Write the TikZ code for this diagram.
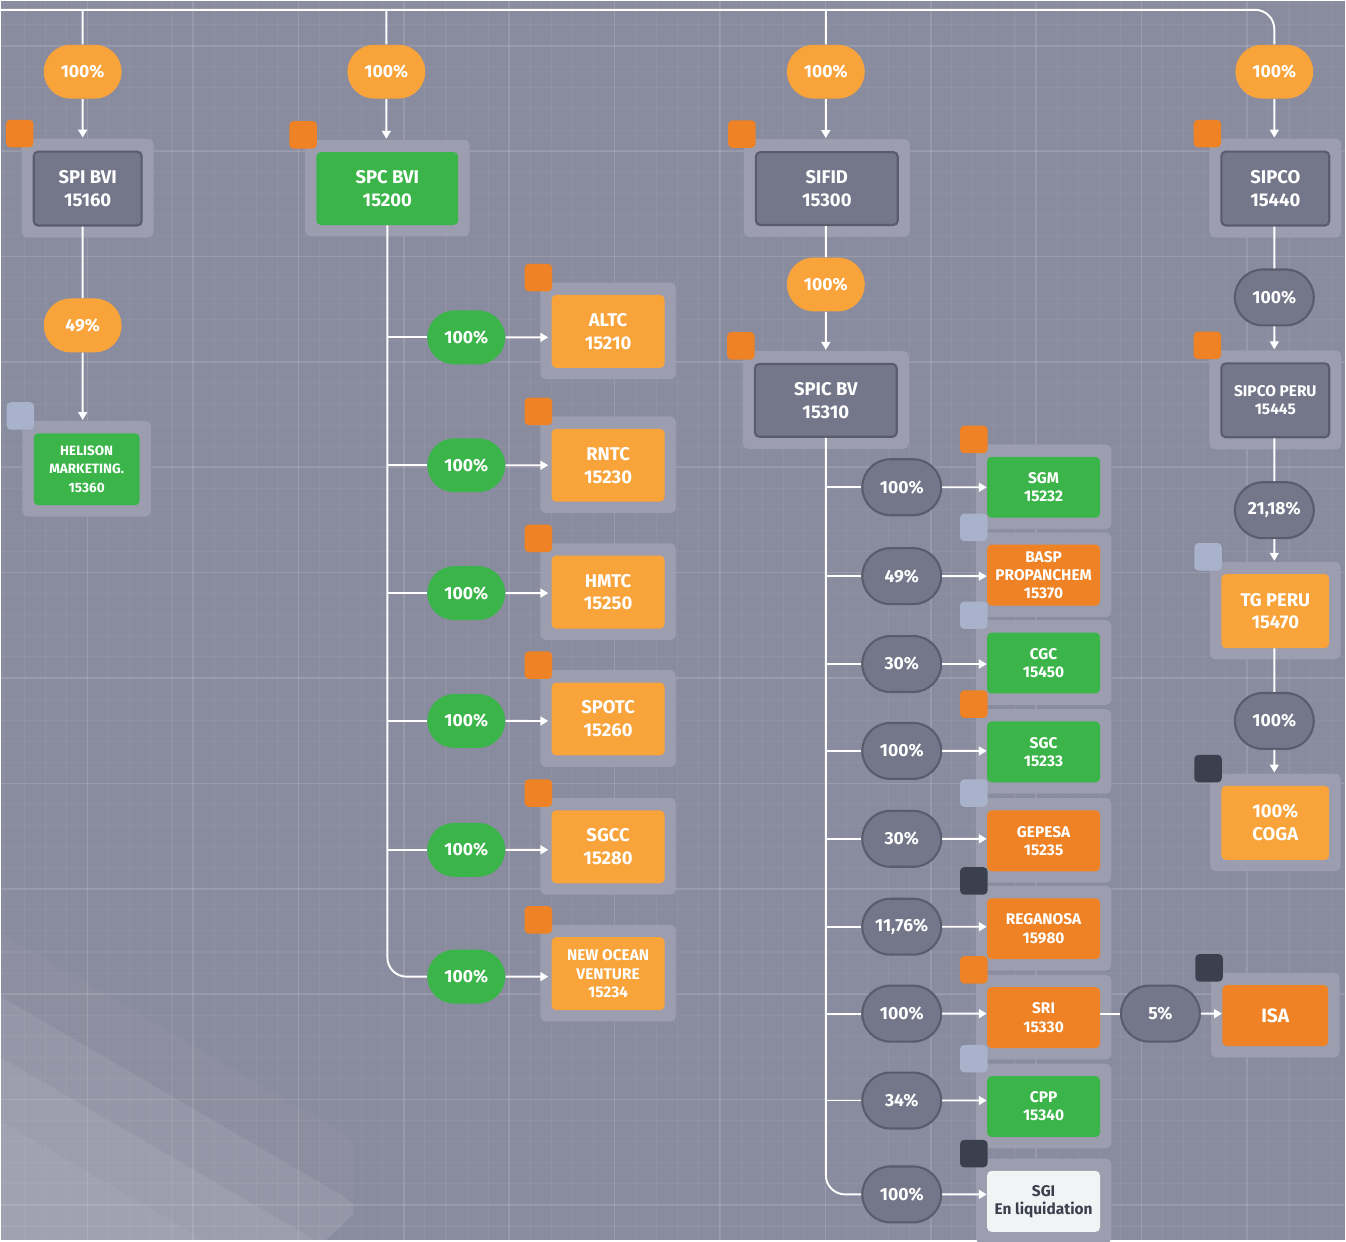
\documentclass[tikz,border=0pt]{standalone}
\usepackage{fontspec}
\setmainfont{Fira Sans}
\usetikzlibrary{arrows.meta,calc,shapes.misc}

\pgfdeclarelayer{back}
\pgfdeclarelayer{halo}
\pgfsetlayers{back,halo,main}

\definecolor{bgfill}{HTML}{898B9E}
\definecolor{halofill}{HTML}{9C9EAF}
\definecolor{greyfill}{HTML}{74768A}
\definecolor{greyline}{HTML}{5A5C6D}
\definecolor{orangelight}{HTML}{F9A33B}
\definecolor{orangedark}{HTML}{EE8224}
\definecolor{greenfill}{HTML}{3BB54A}
\definecolor{tagblue}{HTML}{A8B2CA}
\definecolor{tagdark}{HTML}{3B404F}
\definecolor{sgifill}{HTML}{F2F3F5}

\begin{document}
\begin{tikzpicture}[x=0.02cm, y=-0.02cm]

\tikzset{
  link/.style={draw=white, line width=1.1pt},
  arrow/.style={link, -{Triangle[width=5pt,length=4.5pt]}},
  down arrow/.style={arrow, shorten >=0.26cm},
  side arrow/.style={arrow, shorten >=0.06cm},
  grid minor/.style={white, opacity=0.05, line width=0.6pt},
  grid major/.style={white, opacity=0.1, line width=0.9pt},
  base box/.style={
    rectangle,
    rounded corners=2.5pt,
    inner sep=0pt,
    align=center,
    text=white,
    font=\bfseries\fontsize{10.5}{13}\selectfont,
  },
  grey box/.style={base box, fill=greyfill, draw=greyline, line width=1.2pt},
  orange box/.style={base box, fill=orangelight},
  dark box/.style={base box, fill=orangedark},
  green box/.style={base box, fill=greenfill},
  white box/.style={base box, fill=sgifill, text=tagdark},
  top size/.style={minimum width=2.16cm, minimum height=1.48cm},
  wide size/.style={minimum width=2.84cm, minimum height=1.46cm},
  mid size/.style={minimum width=2.26cm, minimum height=1.46cm},
  small size/.style={minimum width=2.26cm, minimum height=1.22cm,
    font=\bfseries\fontsize{8.8}{10.3}\selectfont},
  pill/.style={
    rounded rectangle,
    minimum width=1.56cm,
    minimum height=1.08cm,
    inner sep=0pt,
    text=white,
    font=\bfseries\fontsize{10}{11}\selectfont,
  },
  orange pill/.style={pill, fill=orangelight},
  green pill/.style={pill, fill=greenfill},
  grey pill/.style={pill, fill=greyfill, draw=greyline, line width=1.2pt,
    minimum width=1.58cm, minimum height=1.12cm},
  halo/.style={fill=halofill, rounded corners=3pt},
  tag/.style={rectangle, minimum size=0.55cm, inner sep=0pt, rounded corners=2.3pt},
}

% Background
\begin{pgfonlayer}{back}
  \fill[bgfill] (0,0) rectangle (1346,1241);
  \fill[white, opacity=0.035] (0,933) -- (345,1135) -- (353,1145) -- (353,1215) -- (325,1241) -- (0,1241) -- cycle;
  \fill[white, opacity=0.07] (0,997) -- (340,1195) -- (353,1205) -- (353,1215) -- (325,1241) -- (0,1241) -- cycle;
  \fill[white, opacity=0.07] (0,1058) -- (315,1241) -- (0,1241) -- cycle;
  \fill[white, opacity=0.05] (0,1122) -- (205,1241) -- (0,1241) -- cycle;
  \foreach \i in {0,...,63} \draw[grid minor] ({2.6+21.1*\i},0) -- ({2.6+21.1*\i},1241);
  \foreach \i in {0,...,58} \draw[grid minor] (0,{2.8+21.1*\i}) -- (1346,{2.8+21.1*\i});
  \foreach \i in {0,...,11} \draw[grid major] ({87+105.5*\i},0) -- ({87+105.5*\i},1241);
  \foreach \i in {0,...,11} \draw[grid major] (0,{45+105.5*\i}) -- (1346,{45+105.5*\i});
\end{pgfonlayer}
\useasboundingbox (0,0) rectangle (1346,1241);

% Column 1: SPI BVI
\node[orange pill] (p1) at (82,71) {100\%};
\node[grey box, top size] (spi) at (87,188) {SPI BVI\\15160};
\node[orange pill] (p2) at (82,325) {49\%};
\node[green box, minimum width=2.12cm, minimum height=1.44cm,
  font=\bfseries\fontsize{7.7}{10.3}\selectfont] (helison) at (86,469) {HELISON\\MARKETING.\\15360};

% Column 2: SPC BVI and its six holdings
\node[orange pill] (p3) at (386,71) {100\%};
\node[green box, wide size] (spc) at (387,188) {SPC BVI\\15200};
\node[green pill] (q1) at (466,337) {100\%};
\node[green pill] (q2) at (466,465) {100\%};
\node[green pill] (q3) at (466,593) {100\%};
\node[green pill] (q4) at (466,721) {100\%};
\node[green pill] (q5) at (466,850) {100\%};
\node[green pill] (q6) at (466,977) {100\%};
\node[orange box, mid size] (altc) at (608,331) {ALTC\\15210};
\node[orange box, mid size] (rntc) at (608,465) {RNTC\\15230};
\node[orange box, mid size] (hmtc) at (608,592) {HMTC\\15250};
\node[orange box, mid size] (spotc) at (608,719) {SPOTC\\15260};
\node[orange box, mid size] (sgcc) at (608,847) {SGCC\\15280};
\node[orange box, mid size, font=\bfseries\fontsize{8.8}{10.3}\selectfont] (nov) at (608,974) {NEW OCEAN\\VENTURE\\15234};

% Column 3: SIFID, SPIC BV and its nine holdings
\node[orange pill] (p4) at (826,71) {100\%};
\node[grey box, wide size] (sifid) at (827,188) {SIFID\\15300};
\node[orange pill] (p5) at (826,284) {100\%};
\node[grey box, wide size] (spicbv) at (826,400) {SPIC BV\\15310};
\node[grey pill] (r1) at (902,487) {100\%};
\node[grey pill] (r2) at (902,576) {49\%};
\node[grey pill] (r3) at (902,664) {30\%};
\node[grey pill] (r4) at (902,751) {100\%};
\node[grey pill] (r5) at (902,839) {30\%};
\node[grey pill] (r6) at (902,927) {11,76\%};
\node[grey pill] (r7) at (902,1014) {100\%};
\node[grey pill] (r8) at (902,1101) {34\%};
\node[grey pill] (r9) at (902,1195) {100\%};
\node[green box, small size] (sgm) at (1044,487) {SGM\\15232};
\node[dark box, small size] (basp) at (1044,575) {BASP\\PROPANCHEM\\15370};
\node[green box, small size] (cgc) at (1044,663) {CGC\\15450};
\node[green box, small size] (sgc) at (1044,752) {SGC\\15233};
\node[dark box, small size] (gepesa) at (1044,841) {GEPESA\\15235};
\node[dark box, small size] (reganosa) at (1044,929) {REGANOSA\\15980};
\node[dark box, small size] (sri) at (1044,1018) {SRI\\15330};
\node[green box, small size] (cpp) at (1044,1107) {CPP\\15340};
\node[white box, small size] (sgi) at (1044,1202) {SGI\\En liquidation};
\node[grey pill] (s1) at (1161,1014) {5\%};
\node[dark box, minimum width=2.12cm, minimum height=1.22cm,
  font=\bfseries\fontsize{11}{13}\selectfont] (isa) at (1276,1016) {ISA};

% Column 4: SIPCO chain
\node[orange pill] (p6) at (1275,71) {100\%};
\node[grey box, top size] (sipco) at (1276,188) {SIPCO\\15440};
\node[grey pill] (t1) at (1275,297) {100\%};
\node[grey box, top size, font=\bfseries\fontsize{8.8}{10.3}\selectfont] (sipcoperu) at (1276,400) {SIPCO PERU\\15445};
\node[grey pill] (t2) at (1275,510) {21,18\%};
\node[orange box, top size] (tgperu) at (1276,611) {TG PERU\\15470};
\node[grey pill] (t3) at (1275,721) {100\%};
\node[orange box, top size] (coga) at (1276,823) {100\%\\COGA};

% Halos and status tags
\begin{pgfonlayer}{halo}
  \foreach \n/\c in {spi/orangedark, helison/tagblue, spc/orangedark,
      altc/orangedark, rntc/orangedark, hmtc/orangedark, spotc/orangedark,
      sgcc/orangedark, nov/orangedark, sifid/orangedark, spicbv/orangedark,
      sgm/orangedark, basp/tagblue, cgc/tagblue, sgc/orangedark,
      gepesa/tagblue, reganosa/tagdark, sri/orangedark, cpp/tagblue,
      sgi/tagdark, isa/tagdark, sipco/orangedark, sipcoperu/orangedark,
      tgperu/tagblue, coga/tagdark} {
    \fill[halo] ($(\n.north west)+(-11,-12)$) rectangle ($(\n.south east)+(11,11)$);
    \node[tag, fill=\c] (tag-\n) at ($(\n.north west)+(-13,-17)$) {};
  }
\end{pgfonlayer}

% Top bus
\coordinate (bus) at (0,9);
\draw[link, rounded corners=11pt] (bus) -| (p6);
\draw[link] (p1) -- (p1 |- bus);
\draw[link] (p3) -- (p3 |- bus);
\draw[link] (p4) -- (p4 |- bus);

% Edges column 1
\draw[down arrow] (p1) -- (p1 |- spi.north);
\draw[link] (spi.south -| p2) -- (p2);
\draw[down arrow] (p2) -- (p2 |- helison.north);

% Edges column 2
\draw[down arrow] (p3) -- (p3 |- spc.north);
\draw[link, rounded corners=11pt] (spc) |- (q6);
\draw[link] (q1 -| spc) -- (q1);
\draw[link] (q2 -| spc) -- (q2);
\draw[link] (q3 -| spc) -- (q3);
\draw[link] (q4 -| spc) -- (q4);
\draw[link] (q5 -| spc) -- (q5);
\draw[side arrow] (q1) -- (q1 -| altc.west);
\draw[side arrow] (q2) -- (q2 -| rntc.west);
\draw[side arrow] (q3) -- (q3 -| hmtc.west);
\draw[side arrow] (q4) -- (q4 -| spotc.west);
\draw[side arrow] (q5) -- (q5 -| sgcc.west);
\draw[side arrow] (q6) -- (q6 -| nov.west);

% Edges column 3
\draw[down arrow] (p4) -- (p4 |- sifid.north);
\draw[link] (sifid.south -| p5) -- (p5);
\draw[down arrow] (p5) -- (p5 |- spicbv.north);
\draw[link, rounded corners=11pt] (spicbv) |- (r9);
\draw[link] (r1 -| spicbv) -- (r1);
\draw[link] (r2 -| spicbv) -- (r2);
\draw[link] (r3 -| spicbv) -- (r3);
\draw[link] (r4 -| spicbv) -- (r4);
\draw[link] (r5 -| spicbv) -- (r5);
\draw[link] (r6 -| spicbv) -- (r6);
\draw[link] (r7 -| spicbv) -- (r7);
\draw[link] (r8 -| spicbv) -- (r8);
\draw[arrow] (r1) -- (r1 -| sgm.west);
\draw[arrow] (r2) -- (r2 -| basp.west);
\draw[arrow] (r3) -- (r3 -| cgc.west);
\draw[arrow] (r4) -- (r4 -| sgc.west);
\draw[arrow] (r5) -- (r5 -| gepesa.west);
\draw[arrow] (r6) -- (r6 -| reganosa.west);
\draw[arrow] (r7) -- (r7 -| sri.west);
\draw[arrow] (r8) -- (r8 -| cpp.west);
\draw[arrow] (r9) -- (r9 -| sgi.west);
\draw[link] (s1 -| sri.east) -- (s1);
\draw[arrow] (s1) -- (s1 -| isa.west);

% Edges column 4
\draw[down arrow] (p6) -- (p6 |- sipco.north);
\draw[link] (sipco.south -| t1) -- (t1);
\draw[down arrow] (t1) -- (t1 |- sipcoperu.north);
\draw[link] (sipcoperu.south -| t2) -- (t2);
\draw[down arrow] (t2) -- (t2 |- tgperu.north);
\draw[link] (tgperu.south -| t3) -- (t3);
\draw[down arrow] (t3) -- (t3 |- coga.north);

\end{tikzpicture}
\end{document}
